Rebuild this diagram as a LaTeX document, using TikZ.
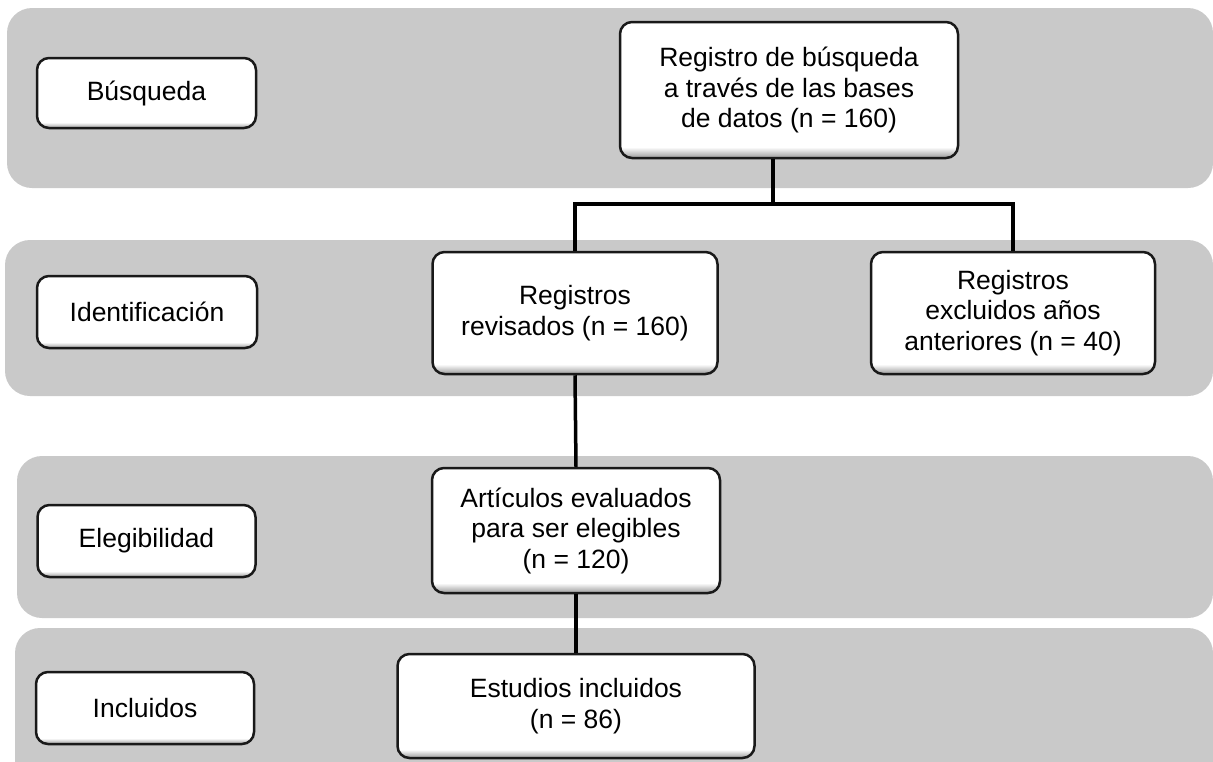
\documentclass[tikz,border=0pt]{standalone}
\usepackage{fontspec}
\setmainfont{Liberation Sans}
\pgfdeclareverticalshading{bevel}{100bp}{color(0bp)=(black!40); color(25bp)=(black!40); color(29bp)=(white); color(100bp)=(white)}
\begin{document}
\begin{tikzpicture}[x=1pt,y=1pt,yscale=-1,xscale=1,
  band/.style={fill={rgb, 255:red, 201; green, 201; blue, 201}, rounded corners=25},
  stagebox/.style={draw={rgb, 255:red, 25; green, 25; blue, 25}, line width=2.5, rounded corners=12, shading=bevel, align=center, inner sep=0, font=\fontsize{26.5}{30.5}\selectfont},
  link/.style={line width=3.5}]
\clip (0,0) rectangle (1213,761);

% gray bands
\fill[band] (7,8) rectangle (1213,188);
\fill[band] (5,240) rectangle (1213,396);
\fill[band] (17,456) rectangle (1213,618);
\fill[band] (15,628) rectangle (1213,800);

\node[stagebox, minimum width=219, minimum height=70] (busqueda) at (146.5,93) {Búsqueda};
\node[stagebox, minimum width=220, minimum height=72] (identificacion) at (147,312) {Identificación};
\node[stagebox, minimum width=218, minimum height=72] (elegibilidad) at (146.5,541) {Elegibilidad};
\node[stagebox, minimum width=218, minimum height=72] (incluidos) at (145,708) {Incluidos};

\node[stagebox, minimum width=338, minimum height=136] (registro) at (789,90) {Registro de búsqueda\\a través de las bases\\de datos (n = 160)};
\node[stagebox, minimum width=285, minimum height=122] (revisados) at (575,313) {Registros\\revisados (n = 160)};
\node[stagebox, minimum width=284, minimum height=122] (excluidos) at (1013,313) {Registros\\excluidos años\\anteriores (n = 40)};
\node[stagebox, minimum width=288, minimum height=125] (articulos) at (576,530.5) {Artículos evaluados\\para ser elegibles\\(n = 120)};
\node[stagebox, minimum width=357, minimum height=104] (estudios) at (576,706) {Estudios incluidos\\(n = 86)};

\coordinate (split) at (773,204);
\draw[link] ([xshift=-16]registro.south) -- (split);
\draw[link] (revisados.north) |- (split) -| (excluidos.north);
\draw[link] (revisados.south) -- (articulos.north);
\draw[link] (articulos.south) -- (estudios.north);

\end{tikzpicture}
\end{document}
